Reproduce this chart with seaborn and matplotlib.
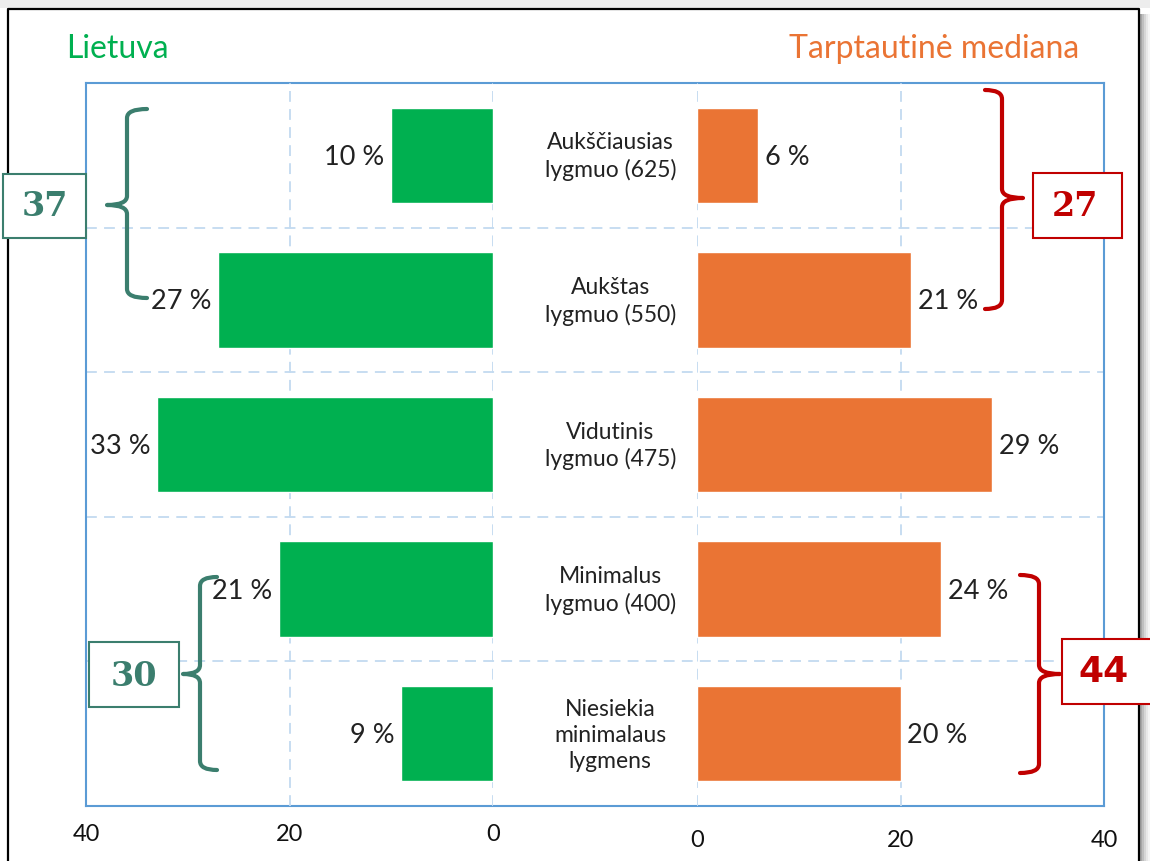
# Lietuva vs tarptautinė mediana - butterfly bar chart
import pandas as pd
import matplotlib.pyplot as plt
import seaborn as sns
from matplotlib.path import Path
from matplotlib.patches import PathPatch, Rectangle

levels = ["Aukščiausias\nlygmuo (625)", "Aukštas\nlygmuo (550)", "Vidutinis\nlygmuo (475)",
          "Minimalus\nlygmuo (400)", "Niesiekia\nminimalaus\nlygmens"]
lietuva = [10, 27, 33, 21, 9]
mediana = [6, 21, 29, 24, 20]
ticks = [0, 20, 40]
sum_lt = ["37", "30"]      # top two / bottom two, Lietuva
sum_med = ["27", "44"]     # top two / bottom two, mediana

GREEN = "#00B050"
ORANGE = "#EA7434"
TEAL = "#3B7E6E"
RED = "#C00000"
BLUE = "#5B9BD5"
GRID = "#C3DAF0"

df = pd.DataFrame({"level": levels, "Lietuva": lietuva, "Mediana": mediana})

sns.set_theme(style="white")
plt.rcParams['font.family'] = ['Lato', 'DejaVu Sans']

W, H = 1150, 861
fig = plt.figure(figsize=(W / 100, H / 100), dpi=100)


def rect(x0, y0, x1, y1):
    # pixel box (origin top-left) -> figure fraction
    return [x0 / W, 1 - y1 / H, (x1 - x0) / W, (y1 - y0) / H]


# background frame of the plot area with horizontal grid
axbg = fig.add_axes(rect(86, 83, 1104, 806))
axbg.set_xlim(0, 1)
axbg.set_ylim(len(levels) - 0.5, -0.5)
for i in range(len(levels) - 1):
    axbg.axhline(i + 0.5, color=GRID, lw=1.3, ls=(0, (6, 4)))
axbg.set_xticks([])
axbg.set_yticks([])
for s in axbg.spines.values():
    s.set_color(BLUE)
    s.set_linewidth(1.5)
for i, lab in enumerate(levels):
    axbg.text(0.515, i + 0.01, lab, ha='center', va='center', fontsize=16.5,
              linespacing=1.3, color='#222222')

# left (Lietuva) and right (mediana) bar panels
axl = fig.add_axes(rect(86, 83, 493, 806))
axr = fig.add_axes(rect(697, 83, 1104, 806))
sns.barplot(data=df, x="Lietuva", y="level", color=GREEN, saturation=1, width=0.66, ax=axl)
sns.barplot(data=df, x="Mediana", y="level", color=ORANGE, saturation=1, width=0.66, ax=axr)

for ax, side in [(axl, -1), (axr, 1)]:
    ax.set_facecolor('none')
    ax.set_xlim((40, 0) if side < 0 else (0, 40))
    ax.set_ylim(len(levels) - 0.5, -0.5)
    for s in ax.spines.values():
        s.set_visible(False)
    ax.set_yticks([])
    ax.set_xlabel('')
    ax.set_ylabel('')
    ax.set_xticks(ticks)
    ax.set_xticklabels([str(t) for t in ticks])
    ax.tick_params(axis='x', length=0, labelsize=17, pad=13 if side < 0 else 17,
                   labelcolor='#111111')
    for t in ticks[:-1]:
        ax.axvline(t, color=GRID, lw=1.3, ls=(0, (6, 4)), zorder=0)
    vals = lietuva if side < 0 else mediana
    for i, v in enumerate(vals):
        ax.annotate(f"{v} %", (v, i), xytext=(5 * side, -1.5), textcoords='offset points',
                    ha='left' if side > 0 else 'right', va='center', fontsize=19.5,
                    color='#222222')

fig.text(66 / W, 1 - 49 / H, "Lietuva", color=GREEN, fontsize=23,
         ha='left', va='center')
fig.text(1079 / W, 1 - 49 / H, "Tarptautinė mediana", color=ORANGE, fontsize=23,
         ha='right', va='center')

# overlay in pixel coordinates for the frame, braces and sum boxes
axo = fig.add_axes([0, 0, 1, 1])
axo.set_xlim(0, W)
axo.set_ylim(H, 0)
axo.axis('off')
axo.set_facecolor('none')

axo.add_patch(Rectangle((0, 0), W, 8, color='#EDEDED', lw=0, zorder=1))
for k, a in enumerate([0.35, 0.25, 0.16, 0.09, 0.04]):
    axo.add_patch(Rectangle((1140 + k * 2, 14), 2, H, color='black', alpha=a, lw=0, zorder=1))
axo.plot([8, 8, 1139, 1139], [H, 9, 9, H], color='black', lw=1.6, zorder=2)


def brace(x, y0, y1, ym, end, tip, color):
    r = 9
    verts = [(end, y0), (x, y0), (x, y0 + r),
             (x, ym - r), (x, ym), (tip, ym),
             (x, ym), (x, ym + r),
             (x, y1 - r), (x, y1), (end, y1)]
    codes = [Path.MOVETO, Path.CURVE3, Path.CURVE3,
             Path.LINETO, Path.CURVE3, Path.CURVE3,
             Path.CURVE3, Path.CURVE3,
             Path.LINETO, Path.CURVE3, Path.CURVE3]
    axo.add_patch(PathPatch(Path(verts, codes), fill=False, ec=color, lw=3,
                            capstyle='round', joinstyle='round', zorder=3))


def sumbox(x0, y0, x1, y1, txt, color, tx, ty, family, size=24):
    axo.add_patch(Rectangle((x0, y0), x1 - x0, y1 - y0, fc='white', ec=color, lw=1.5, zorder=4))
    axo.text(tx, ty, txt, color=color, fontsize=size, fontweight='bold', family=family,
             ha='center', va='center', zorder=5)


brace(127, 109, 298, 205, 147, 107, TEAL)
brace(200, 577, 770, 674, 217, 183, TEAL)
brace(1002, 90, 309, 198, 985, 1023, RED)
brace(1039, 575, 773, 674, 1020, 1060, RED)

sumbox(3, 174, 86, 238, sum_lt[0], TEAL, 45, 207, 'DejaVu Serif')
sumbox(89, 642, 179, 707, sum_lt[1], TEAL, 134, 676, 'DejaVu Serif')
sumbox(1033, 173, 1122, 238, sum_med[0], RED, 1075, 206, 'DejaVu Serif')
sumbox(1062, 639, 1160, 704, sum_med[1], RED, 1104, 672, 'DejaVu Sans', 26)

fig.savefig("out.png", dpi=100)
